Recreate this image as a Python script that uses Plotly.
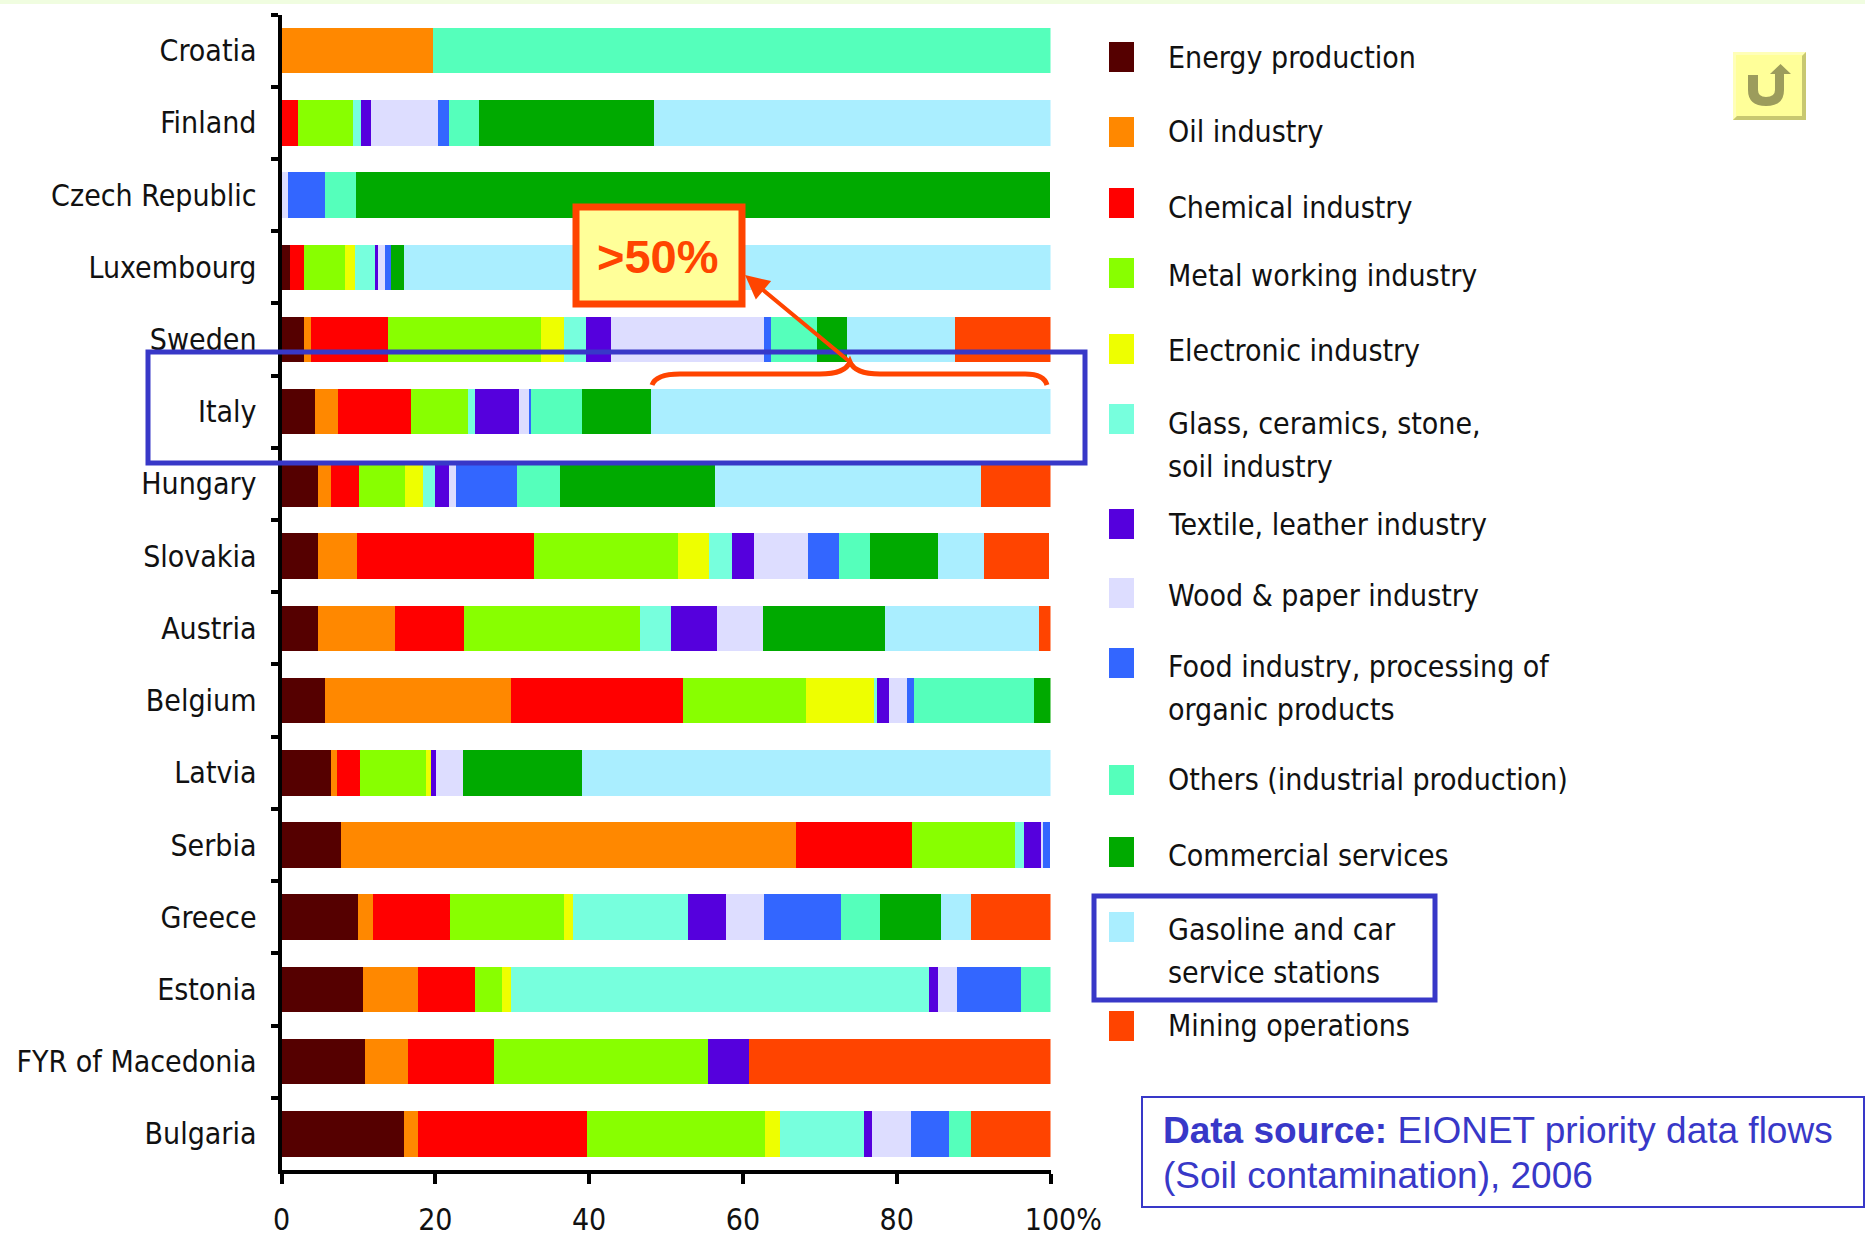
import plotly.graph_objects as go

W, H = 1865, 1237

countries = ["Croatia", "Finland", "Czech Republic", "Luxembourg", "Sweden", "Italy", "Hungary", "Slovakia",
             "Austria", "Belgium", "Latvia", "Serbia", "Greece", "Estonia", "FYR of Macedonia", "Bulgaria"]

# columns follow the order of `countries`
energy     = [0, 0, 0.1, 1.1, 2.9, 4.4, 4.7, 4.8, 4.8, 5.6, 6.5, 7.7, 9.9, 10.6, 10.9, 15.9]
oil        = [19.7, 0, 0, 0, 1.0, 2.9, 1.8, 5.0, 9.9, 24.3, 0.7, 59.2, 2.0, 7.1, 5.6, 1.8]
chemical   = [0, 2.1, 0, 1.8, 10.0, 9.6, 3.6, 23.0, 9.0, 22.3, 3.0, 15.1, 10.0, 7.4, 11.1, 22.0]
metal      = [0, 7.2, 0, 5.4, 19.9, 7.3, 6.0, 18.8, 22.9, 16.0, 8.6, 13.4, 14.9, 3.6, 27.8, 23.2]
electronic = [0, 0, 0, 1.3, 2.9, 0, 2.3, 4.0, 0, 8.8, 0.6, 0, 1.1, 1.1, 0, 1.9]
glass      = [0, 1.1, 0, 2.5, 2.9, 0.9, 1.5, 3.0, 4.0, 0.5, 0, 1.2, 14.9, 54.4, 0, 10.9]
textile    = [0, 1.2, 0, 0.4, 3.2, 5.8, 1.9, 2.9, 6.0, 1.5, 0.7, 2.1, 5.0, 1.2, 5.4, 1.1]
wood       = [0, 8.7, 0.8, 0.9, 19.9, 1.3, 0.9, 7.0, 6.0, 2.4, 3.5, 0.3, 5.0, 2.4, 0, 5.0]
food       = [0, 1.5, 4.8, 0.8, 0.9, 0.3, 7.9, 4.0, 0, 0.9, 0, 0.9, 10.0, 8.4, 0, 5.0]
others     = [80.3, 3.9, 4.0, 0, 6.1, 6.6, 5.6, 4.0, 0, 15.5, 0, 0, 5.0, 3.8, 0, 2.9]
commercial = [0, 22.8, 90.2, 1.7, 3.9, 9.0, 20.2, 8.9, 15.9, 2.2, 15.5, 0, 7.9, 0, 0, 0]
gasoline   = [0, 51.5, 0, 84.1, 14.0, 51.9, 34.5, 6.0, 20.0, 0, 60.9, 0, 4.0, 0, 0, 0]
mining     = [0, 0, 0, 0, 12.4, 0, 9.1, 8.4, 1.5, 0, 0, 0, 10.3, 0, 39.2, 10.3]

series_names = ["Energy production", "Oil industry", "Chemical industry", "Metal working industry",
                "Electronic industry", "Glass, ceramics, stone, soil industry", "Textile, leather industry",
                "Wood & paper industry", "Food industry, processing of organic products",
                "Others (industrial production)", "Commercial services", "Gasoline and car service stations",
                "Mining operations"]
series_values = [energy, oil, chemical, metal, electronic, glass, textile, wood, food, others, commercial,
                 gasoline, mining]
series_colors = ["#550000", "#ff8800", "#ff0000", "#88ff00", "#eeff00", "#77ffdd", "#5500dd", "#ddddff",
                 "#3366ff", "#55ffbb", "#00aa00", "#aaeeff", "#ff4400"]

x_ticks = [0, 20, 40, 60, 80, 100]
x_tick_labels = ["0", "20", "40", "60", "80", "\u00a0\u00a0\u00a0100%"]

legend_rows = [
    ("Energy production", 58), ("Oil industry", 132), ("Chemical industry", 207),
    ("Metal working industry", 275), ("Electronic industry", 351), ("Glass, ceramics, stone,", 423),
    ("soil industry", 466), ("Textile, leather industry", 524), ("Wood & paper industry", 595),
    ("Food industry, processing of", 666), ("organic products", 709),
    ("Others (industrial production)", 779), ("Commercial services", 855),
    ("Gasoline and car", 929), ("service stations", 972), ("Mining operations", 1025),
]
swatch_tops = [42, 117, 188, 258, 334, 404, 509, 578, 648, 765, 837, 912, 1011]

LABEL_FONT = "DejaVu Sans Condensed, DejaVu Sans, sans-serif"
ARIAL = "Liberation Sans, Arial, sans-serif"
BLUE = "#3838c8"
ORANGE = "#ff4400"
PALE = "#ffff99"


def px(x):
    return x / W


def py(y):
    return 1 - y / H


def rect(x0, y0, x1, y1, **kw):
    return dict(type="rect", xref="paper", yref="paper", x0=px(x0), x1=px(x1), y0=py(y0), y1=py(y1), **kw)


def path(points, color, width, fill=None, close=False):
    d = " ".join(f"{c}{px(x):.5f},{py(y):.5f}" for c, x, y in points)
    if close:
        d += " Z"
    s = dict(type="path", xref="paper", yref="paper", path=d, line=dict(color=color, width=width))
    if fill:
        s["fillcolor"] = fill
    return s


fig = go.Figure()
for name, vals, col in zip(series_names, series_values, series_colors):
    fig.add_trace(go.Bar(name=name, y=countries, x=vals, orientation="h",
                         marker=dict(color=col, line=dict(width=0))))

shapes = [rect(0, 0, W, 4, fillcolor="#f0fde0", line_width=0)]

# legend swatches
for top, col in zip(swatch_tops, series_colors):
    shapes.append(rect(1109, top, 1134, top + 30, fillcolor=col, line_width=0))

# Italy highlight, legend highlight, source box
shapes.append(rect(148, 352, 1085, 463, line=dict(color=BLUE, width=5)))
shapes.append(rect(1094, 896, 1435, 1000, line=dict(color=BLUE, width=5)))
shapes.append(rect(1142, 1097, 1864, 1207, line=dict(color=BLUE, width=2)))

# brace
shapes.append(path([("M", 652, 385), ("Q", 656, 374), ("", 680, 374), ("L", 820, 374), ("Q", 845, 374), ("", 850, 362),
                    ("Q", 855, 374), ("", 880, 374), ("L", 1025, 374), ("Q", 1044, 374), ("", 1047, 385)],
                   ORANGE, 5))
# >50% callout
shapes.append(rect(576, 207, 742, 304, fillcolor=PALE, line=dict(color=ORANGE, width=7)))

# back button
shapes.append(rect(1733, 52, 1806, 120, fillcolor=PALE, line_width=0))
shapes.append(path([("M", 1733, 52), ("L", 1806, 52), ("L", 1803, 55), ("L", 1736, 55), ("L", 1736, 117), ("L", 1733, 120)],
                   "#ffffb8", 0, "#ffffb8", close=True))
shapes.append(path([("M", 1806, 52), ("L", 1806, 120), ("L", 1733, 120), ("L", 1737, 116), ("L", 1802, 116),
                    ("L", 1802, 56)], "#c8c870", 0, "#c8c870", close=True))
shapes.append(path([("M", 1748, 75), ("L", 1748, 90), ("Q", 1748, 106), ("", 1766, 106), ("Q", 1784, 106), ("", 1784, 90),
                    ("L", 1784, 74), ("L", 1791, 74), ("L", 1780.5, 64), ("L", 1770, 74), ("L", 1775, 74), ("L", 1775, 90),
                    ("Q", 1775, 97), ("", 1766, 97), ("Q", 1758, 97), ("", 1758, 90), ("L", 1758, 75)],
                   "#9c9c5c", 0, "#9c9c5c", close=True))

annotations = []


def label(text, x, y, size, font, color="#111111", anchor="left", **kw):
    annotations.append(dict(text=text, xref="paper", yref="paper", x=px(x), y=py(y), xanchor=anchor,
                            yanchor="middle", showarrow=False, align="left",
                            font=dict(size=size, family=font, color=color), **kw))


for text, y in legend_rows:
    label(text, 1166, y, 30, LABEL_FONT)

label("<b>&gt;50%</b>", 658, 256, 47, ARIAL, color=ORANGE, anchor="center")
label("<b>Data source:</b> EIONET priority data flows", 1161, 1130, 37, ARIAL, color=BLUE)
label("(Soil contamination), 2006", 1161, 1175, 37, ARIAL, color=BLUE)

# arrow from the brace to the callout
annotations.append(dict(xref="paper", yref="paper", axref="pixel", ayref="pixel",
                        x=px(745), y=py(275), ax=105, ay=87, text="", showarrow=True,
                        arrowhead=2, arrowsize=1.2, arrowwidth=4, arrowcolor=ORANGE, standoff=0))

fig.update_layout(
    width=W, height=H, autosize=False, barmode="stack", bargap=0.37, showlegend=False,
    margin=dict(l=0, r=0, t=0, b=0, pad=0), paper_bgcolor="white", plot_bgcolor="white",
    xaxis=dict(domain=[px(281.5), px(1050.5)], range=[0, 100], tickmode="array", tickvals=x_ticks,
               ticktext=x_tick_labels, ticks="outside", ticklen=10, tickwidth=4, tickcolor="black",
               showline=True, linecolor="black", linewidth=4, showgrid=False, zeroline=False, anchor="y",
               automargin=False, tickangle=0, ticklabelstandoff=10,
               tickfont=dict(size=30, family=LABEL_FONT, color="#111111")),
    yaxis=dict(domain=[py(1170), py(14.5)], type="category", categoryorder="array", categoryarray=countries,
               autorange="reversed", tickson="boundaries", ticks="outside", ticklen=7, tickwidth=4,
               tickcolor="black", showline=True, linecolor="black", linewidth=4, showgrid=False,
               zeroline=False, automargin=False, ticklabelstandoff=15, anchor="x",
               tickfont=dict(size=30, family=LABEL_FONT, color="#111111")),
    shapes=shapes, annotations=annotations,
)

fig.write_html("out.html", config={"displayModeBar": False, "responsive": False},
               post_script="document.body.style.margin='0';document.body.style.overflow='hidden';")
